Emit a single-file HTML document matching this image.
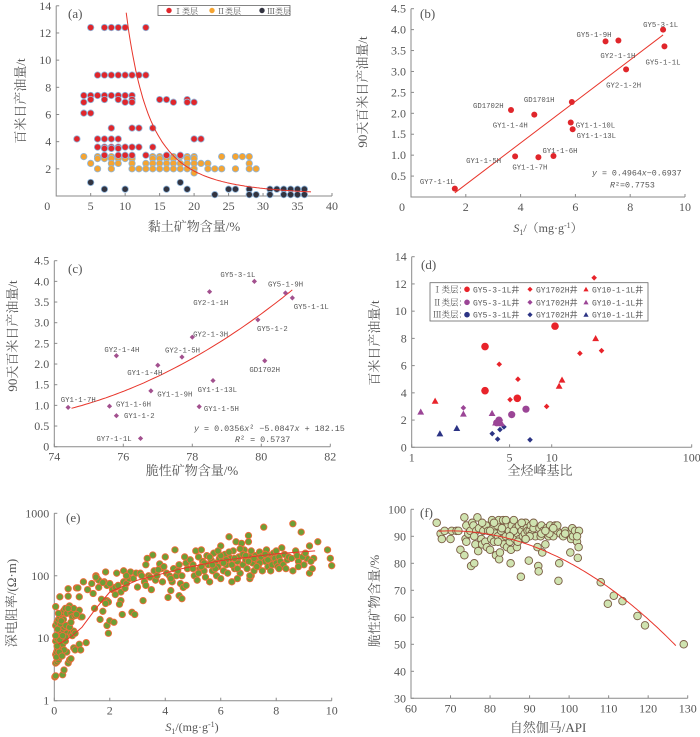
<!DOCTYPE html>
<html><head><meta charset="utf-8"><style>
html,body{margin:0;padding:0;background:#fff;}
svg{display:block;}
text{font-family:"Liberation Serif","Noto Serif CJK SC",serif;fill:#555;}
.cjk{font-family:"Liberation Serif","Noto Serif CJK SC","Noto Sans CJK SC",serif;}
.lab{font-family:"Liberation Mono","Noto Sans CJK SC",monospace;font-size:7.3px;fill:#555;}
</style></head><body>
<svg id="fig" width="700" height="737" viewBox="0 0 700 737" xmlns="http://www.w3.org/2000/svg"></svg>
<script>
// ---------- Panel (a) data ----------
const aIX=[5,7,8,9,10,13, 6,7,8,9,10,11,12,13, 4,5,6,7,8,9,10,11, 5,7,9,11,15,16,19, 4,10,11,17,19,20, 4,5, 8,11,12,14, 3,6,7,8,9,20,21, 6,7,8,9,10,11,12,14, 7,8,9, 7,9,10,11,13,16,18];
const aIY=[12.4,12.4,12.4,12.4,12.4,12.4, 8.9,8.9,8.9,8.9,8.9,8.9,8.9,8.9, 7.4,7.4,7.4,7.4,7.4,7.4,7.4,7.4, 7.1,7.1,7.1,7.1,7.1,7.1,7.1, 6.9,6.9,6.9,6.9,6.9,6.9, 6.1,6.1, 5,5,5,5, 4.2,4.2,4.2,4.2,4.2,4.2,4.2, 3.6,3.6,3.6,3.6,3.6,3.6,3.6,3.6, 3.5,3.5,3.5, 3,3,3,3,3,3,3];
const aIIX=[4,6,7,8,9,10,11,14,15,16,17,18,19,20,24,26,27,28, 6,7,8,9,10,11,14,15,16,17,19,20, 5,8,9,11,13,14,15,16,17,18,19,20,21,22,28, 6,8,11,12,13,14,15,16,17,18,19,20,22,23,24,26,28,29, 20];
const aIIY=[2.9,2.9,2.9,2.9,2.9,2.9,2.9,2.9,2.9,2.9,2.9,2.9,2.9,2.9,2.9,2.9,2.9,2.9, 2.75,2.75,2.75,2.75,2.75,2.75,2.75,2.75,2.75,2.75,2.75,2.75, 2.4,2.4,2.4,2.4,2.4,2.4,2.4,2.4,2.4,2.4,2.4,2.4,2.4,2.4,2.4, 2,2,2,2,2,2,2,2,2,2,2,2,2,2,2,2,2,2, 1.7];
const aIIIX=[5,7,7,10,16,18,19,23,25,26,28,28,29,31,31,32,33,33,34,34,35,35,36,36];
const aIIIY=[1,2.95,0.5,0.5,0.5,1,0.5,0.1,0.5,0.5,0.5,0.1,0.1,0.5,0.1,0.5,0.5,0.1,0.5,0.1,0.5,0.1,0.5,0.1];
const aXTicks=[5,10,15,20,25,30,35,40];
const aYTicks=[2,4,6,8,10,12,14];
const aFit=[13.3,10.2,2.94]; // power fit: y = a*(x/x0)^-b

// ---------- Panel (b) data ----------
const bNames=["GY7-1-1L","GY1-1-5H","GY1-1-7H","GY1-1-6H","GD1702H","GY1-1-4H","GD1701H","GY1-1-10L","GY1-1-13L","GY5-1-9H","GY2-1-1H","GY2-1-2H","GY5-3-1L","GY5-1-1L"];
const bS1=[1.6,3.8,4.65,5.2,3.65,4.5,5.87,5.83,5.9,7.1,7.57,7.85,9.2,9.25];
const bOil=[0.2,0.97,0.95,0.98,2.08,1.97,2.27,1.78,1.62,3.72,3.74,3.05,4.0,3.6];
const bXTicks=[2,4,6,8,10];
const bYTicks=[0.5,1.0,1.5,2.0,2.5,3.0,3.5,4.0,4.5];
const bFit=[0.4964,-0.6937];

// ---------- Panel (c) data ----------
const cNames=["GY1-1-7H","GY1-1-6H","GY1-1-2","GY7-1-1L","GY2-1-4H","GY1-1-4H","GY1-1-9H","GY2-1-5H","GY2-1-3H","GY2-1-1H","GY1-1-13L","GY1-1-5H","GY5-3-1L","GY5-1-2","GD1702H","GY5-1-9H","GY5-1-1L"];
const cBrittle=[74.4,75.6,75.8,76.5,75.8,77.0,76.8,77.7,78.0,78.5,78.6,78.2,79.8,79.9,80.1,80.7,80.9];
const cOil=[0.95,0.98,0.75,0.2,2.2,1.97,1.35,2.17,2.65,3.75,1.6,0.97,4.0,3.07,2.08,3.72,3.6];
const cXTicks=[74,76,78,80,82];
const cYTicks=[0,0.5,1.0,1.5,2.0,2.5,3.0,3.5,4.0,4.5];
const cFit=[0.0356,-5.0847,182.15];

// ---------- Panel (d) data ----------
const dICircX=[3.34,3.34,5.68,10.56], dICircY=[7.4,4.16,3.6,8.9];
const dIDiaX=[4.22,5.74,5.04,9.2,15.9,20.1,22.7], dIDiaY=[6.1,5.0,3.5,3.0,6.9,12.45,7.1];
const dITriX=[1.47,11.3,11.85,20.6], dITriY=[3.4,4.5,4.95,8.0];
const dIICircX=[4.2,5.18,6.55,4.05], dIICircY=[2.0,2.4,2.8,1.8];
const dIIDiaX=[2.34,4.3], dIIDiaY=[2.9,2.0];
const dIITriX=[1.16,2.34,3.75,3.97,4.39], dIITriY=[2.6,2.45,2.5,1.8,1.75];
const dIIIDiaX=[3.76,4.11,4.27,4.56,7.0], dIIIDiaY=[1.0,0.6,1.3,1.5,0.55];
const dIIITriX=[1.59,2.1], dIIITriY=[1.0,1.4];
const dXTicks=[1,5,10,100];
const dYTicks=[0,2,4,6,8,10,12,14];

// ---------- Panel (e) data ----------
const eS1=[0.02,0.05,0.3,0.35,0.05,0.1,0.15,0.2,0.05,0.08,0.12,0.18,0.25,0.3,0.05,0.1,0.15,0.2,0.25,0.3,0.35,0.05,0.1,0.15,0.2,0.25,0.3,0.35,0.4,0.05,0.2,0.45,0.45,0.4,0.45,0.4,0.1,0.2,0.3,0.05,0.12,0.22,0.33,0.42,0.15,0.25,0.35,0.08,0.18,0.28,
0.5,0.55,0.6,0.5,0.5,0.55,0.6,0.65,0.7,0.75,0.8,0.85,0.9,0.9,0.95,1.0,0.7,0.75,0.6,0.65,0.7,0.75,0.9,0.95,1.15,1.05,0.55,0.8,0.5,0.6,
1.2,1.35,1.4,1.45,1.5,1.55,1.6,1.65,1.7,1.75,1.8,1.85,1.9,1.9,1.95,1.85,1.9,2.0,1.95,2.1,2.15,2.2,2.25,2.3,2.4,2.45,2.4,2.5,2.5,2.55,2.6,2.7,2.75,2.8,2.85,2.9,2.95,3.0,2.2,2.6,1.6,1.75,2.35,2.0,1.5,
3.1,3.2,3.25,3.3,3.35,3.4,3.5,3.55,3.6,3.65,3.7,3.8,3.85,3.9,4.0,4.05,4.1,4.15,4.2,4.25,4.3,4.35,4.4,4.5,4.5,4.55,4.6,4.6,4.65,4.7,4.75,4.8,3.3,3.45,3.75,3.95,4.2,4.45,4.75,3.15,
4.9,5.0,5.05,5.1,5.15,5.2,5.25,5.3,5.35,5.4,5.45,5.5,5.55,5.6,5.65,5.7,5.75,5.8,5.85,5.9,5.95,6.0,6.0,6.05,6.1,6.15,6.2,6.25,6.3,6.35,6.4,6.45,6.5,6.55,6.6,6.65,6.7,6.75,6.8,6.85,6.9,6.95,7.0,7.05,7.05,7.1,7.1,7.15,7.2,7.25,7.3,7.35,7.4,7.45,7.5,7.55,7.6,7.65,7.7,7.75,7.8,7.85,7.9,7.95,8.0,8.05,8.1,8.15,8.2,8.25,8.3,8.35,8.4,8.45,5.0,5.2,5.4,5.6,5.8,6.0,6.2,6.4,6.6,6.8,7.0,7.2,7.4,7.6,7.8,8.0,5.3,5.7,6.1,6.5,6.9,7.3,7.7,8.1,6.3,7.0,6.7,5.9,6.6,7.05,
8.6,8.6,8.7,8.8,8.9,9.0,9.0,9.1,9.2,9.2,9.3,9.35,9.5,9.85,9.95,10.0,8.55,8.75,8.95,9.25,8.8,9.05];
const eRes=[2.4,2.5,2.6,3.1,4,4.2,4.5,5,5.5,6,6.5,7,7.5,8,9,10,11,12,13,14,15,16,18,20,22,24,26,28,30,32,46,25,12,9,6,10.5,7.5,9.5,11,11,14,17,20,16,25,19,6.5,5,6,5.2,
4,4.5,4.7,62,47,33,25,22,30,23,64,64,46,28,22,22,7,6.5,12,11,13,12,8,6.5,8.5,80,15,24,30,18,
60,75,52,30,100,90,65,20,42,27,80,115,70,40,38,36,16,19,12,60,18,65,110,70,55,24,40,120,80,63,75,90,115,26,90,24,110,66,50,100,85,78,35,75,95,
110,40,80,150,190,100,60,215,120,85,100,155,130,80,200,110,45,100,58,80,130,260,100,150,48,75,100,43,65,200,70,130,70,95,125,140,90,120,160,100,
180,150,100,250,85,200,130,260,170,120,95,210,150,80,180,120,230,160,100,140,190,300,90,170,120,220,150,110,420,190,80,250,130,350,170,200,110,330,150,260,180,130,440,200,90,100,250,160,120,210,180,140,240,200,120,600,170,260,140,210,180,150,230,190,160,140,200,170,280,150,220,130,180,200,130,110,160,200,130,210,180,150,130,220,170,190,160,220,120,250,140,150,160,190,210,140,180,130,240,350,270,250,90,100,
680,120,250,170,500,210,150,190,300,110,130,190,350,260,190,145,190,210,200,170,140,230];
const eXTicks=[0,2,4,6,8,10];
const eYTicks=[1,10,100,1000];
const eFitX=[0.15,0.6,1,1.5,2,3,4.5,6,8,9.4];
const eFitY=[8,10.5,15,30,55,85,127,175,225,250];

// ---------- Panel (f) data ----------
const fGR=[66.5,67.5,67.8,68.5,70,70.3,71.5,72,72.5,73.5,73.5,73.8,74,74,74.5,75,75.2,75.5,75.8,76,76.3,76.5,76.8,77,77.2,77.8,78,78.3,78.8,79,79.2,79.5,80,80.3,80.5,80.8,81,81.3,81.5,81.8,82,82.2,82.3,82.5,82.8,83,83.3,83.5,83.8,84,84.3,84.5,84.8,85,85.2,85.3,85.5,85.8,86,86.3,86.5,86.8,87,87.3,87.5,87.8,88,88.3,88.5,88.8,89,89.3,89.5,89.8,90,90.3,90.5,91,91.5,92,92.2,92.3,92.5,92.8,93,93.2,93.5,94,94.3,94.8,95.2,95.5,96,96.5,97,97.3,97.5,97.8,98.5,99,100,100.3,100.5,100.8,101,101.5,102,102.2,102.4,102.5,102,
108,109.8,111.3,113.5,117.3,119.2,129,
80,81,83,84,86,88,90,91,93,95,97,99,78,76,82,85,87,89,94,96];
const fBrittle=[95,91,89,92,89,92,92,92,85,83,97,89,88,94,91,92,79,95,94,80,87,92,97,84.5,93,89,87,92,88,94,86,92,85,89,96,93,88,91,83,94,90,96,81.5,84,92,89,96,87,93,90,86,94,92,88,80,85,94,91,96,89,93,86,91,94,89,75,92,90,94,91,95,93,92,81,92,94,91,93,90,86,79,77,93,90,94,84,92,87,93,90,94,92,90,94,92,73.5,80,91,90,92,91,84,89,93,90,92,88,82,86,92,90,
73,65,68,66,60.5,57,50,
92,95,93,96,92,95,90,95,91,91,94,91,95,90,88,90,88,89,92,93];
const fXTicks=[60,70,80,90,100,110,120,130];
const fYTicks=[30,40,50,60,70,80,90,100];
const fFit=[92,70,0.01308]; // y = a - k(x-x0)^2

// ---------- helpers ----------
const NS="http://www.w3.org/2000/svg";
const svg=document.getElementById('fig');
function el(tag,attrs,parent){const e=document.createElementNS(NS,tag);for(const k in attrs)e.setAttribute(k,attrs[k]);(parent||svg).appendChild(e);return e;}
function lin(d0,d1,r0,r1){return v=>r0+(v-d0)/(d1-d0)*(r1-r0);}
function lg(d0,d1,r0,r1){return v=>r0+(Math.log10(v)-Math.log10(d0))/(Math.log10(d1)-Math.log10(d0))*(r1-r0);}
function group(name){const g=el('g',{});return g;}
function txt(g,x,y,s,opts){const t=el('text',Object.assign({x:x,y:y},opts||{}),g);t.textContent=s;return t;}
function axes(g,X,Y,x0,x1,y0,y1,xt,yt,fmtX,fmtY,zeroCorner){
  const ax=el('path',{d:`M${X(x0)},${Y(y1)}V${Y(y0)}H${X(x1)}`,fill:'none',stroke:'#8a8a8a','stroke-width':1},g);
  
  
  xt.forEach(v=>{const px=X(v);el('line',{x1:px,x2:px,y1:Y(y0),y2:Y(y0)-3,stroke:'#8a8a8a'},g);
    const t=txt(g,px,Y(y0)+14,fmtX(v),{'text-anchor':'middle','font-size':12});
    
    });
  yt.forEach(v=>{const py=Y(v);el('line',{x1:X(x0),x2:X(x0)+3,y1:py,y2:py,stroke:'#8a8a8a'},g);
    const t=txt(g,X(x0)-5,py+4,fmtY(v),{'text-anchor':'end','font-size':12});
    
    });
  if(zeroCorner){const t=txt(g,X(x0)-9,Y(y0)+14,'0',{'text-anchor':'middle','font-size':12});
    
    }
}
function ytitle(g,x,y,s){const t=txt(g,x,y,s,{'text-anchor':'middle','font-size':13,class:'cjk',transform:`rotate(-90 ${x} ${y})`,'dominant-baseline':'middle'});
  
  return t;}
function xtitle(g,x,y,s){const t=txt(g,x,y,s,{'text-anchor':'middle','font-size':13,class:'cjk'});
  
  return t;}
function plabel(g,x,y,s){const t=txt(g,x,y,s,{'font-size':13});
  
  }
function marker(g,shape,x,y,r,fill,stroke,sw){
  let m;
  if(shape==='circle')m=el('circle',{cx:x,cy:y,r:r,fill:fill,stroke:stroke||'none','stroke-width':sw||0},g);
  else if(shape==='diamond')m=el('path',{d:`M${x},${y-r}L${x+r},${y}L${x},${y+r}L${x-r},${y}Z`,fill:fill},g);
  else m=el('path',{d:`M${x},${y-r}L${x+r},${y+r*0.8}L${x-r},${y+r*0.8}Z`,fill:fill},g);
  return m;}
const f1=v=>v.toFixed(1), f0=v=>String(v);

// ---------- Panel (a) ----------
(function(){
  const g=group('panel-a-clay-vs-oil');
  const X=lin(0,40,56.2,332), Y=lin(0,14,196,5.8);
  axes(g,X,Y,0,40,0,14,aXTicks,aYTicks,f0,f0,true);
  ytitle(g,22,101,'百米日产油量/t');
  xtitle(g,194,231,'黏土矿物含量/%');
  plabel(g,68,18,'(a)');
  const sets=[[aIIIX,aIIIY,'#333440','class-III-point'],[aIIX,aIIY,'#f5a431','class-II-point'],[aIX,aIY,'#e0262b','class-I-point']];
  sets.forEach(([xs,ys,c,n])=>xs.forEach((x,i)=>{const m=marker(g,'circle',X(x),Y(ys[i]),3.2,c,'#8fb6dc',0.8);
    
    }));
  let d='';for(let x=10.15;x<=37;x+=0.2){const y=aFit[0]*Math.pow(x/aFit[1],-aFit[2]);d+=(d?'L':'M')+X(x).toFixed(1)+','+Y(y).toFixed(1);}
  const fl=el('path',{d:d,fill:'none',stroke:'#e8352b','stroke-width':1},g);
  
  
  const lg=group('legend-a');g.appendChild(lg);
  el('rect',{x:158,y:5.5,width:132,height:10,fill:'#fff',stroke:'#666','stroke-width':0.8},lg);
  [['Ⅰ类层','#e0262b',169],['Ⅱ类层','#f5a431',212],['Ⅲ类层','#333440',262]].forEach(([s,c,x])=>{
    const m=marker(lg,'circle',x,10.5,2.7,c);
    
    
    const t=txt(lg,x+5,13.8,s,{'font-size':8,class:'cjk'});
    
    });
})();

// ---------- Panel (b) ----------
(function(){
  const g=group('panel-b-s1-vs-oil');
  const X=lin(0,10,411,685), Y=lin(0,4.5,197,8.7);
  axes(g,X,Y,0,10,0,4.5,bXTicks,bYTicks,f0,f1,true);
  ytitle(g,364,92,'90天百米日产油量/t');
  const xt=txt(g,548,232,'',{'text-anchor':'middle','font-size':12,class:'cjk'});
  
  
  xt.innerHTML='<tspan font-style="italic">S</tspan><tspan font-size="8" dy="3">1</tspan><tspan dy="-3">/（mg·g</tspan><tspan font-size="8" dy="-4">-1</tspan><tspan dy="4">）</tspan>';
  plabel(g,420,18,'(b)');
  const fl=el('line',{x1:X(1.6),y1:Y(bFit[0]*1.6+bFit[1]),x2:X(9.2),y2:Y(bFit[0]*9.2+bFit[1]),stroke:'#e8352b','stroke-width':1},g);
  
  
  const off=[[-35,-7],[-49,4.3],[-26,9.7],[-11,-5.3],[-38,-4.4],[-41.6,10.3],[-48,-2.7],[5,2.7],[4,6.3],[-29,-7],[-18,15],[-20,15.7],[-20,-5],[-19,15.7]];
  bS1.forEach((x,i)=>{const px=X(x),py=Y(bOil[i]);
    const m=marker(g,'circle',px,py,3,'#e0262b');
    
    
    const t=txt(g,px+off[i][0],py+off[i][1]+2.5,bNames[i],{class:'lab'});
    
    });
  const e1=txt(g,592,175.5,'',{class:'lab'});e1.setAttribute('style','font-size:8.3px');
  
  
  e1.innerHTML='<tspan font-style="italic">y</tspan> = 0.4964<tspan font-style="italic">x</tspan>−0.6937';
  const e2=txt(g,610,187.5,'',{class:'lab'});e2.setAttribute('style','font-size:8.3px');
  
  
  e2.innerHTML='<tspan font-style="italic">R</tspan>²=0.7753';
})();

// ---------- Panel (c) ----------
(function(){
  const g=group('panel-c-brittle-vs-oil');
  const X=lin(74,82,54.3,330.3), Y=lin(0,4.5,446.7,260.7);
  axes(g,X,Y,74,82,0,4.5,cXTicks,cYTicks,f0,v=>v===0?'0':f1(v),false);
  ytitle(g,14,336,'90天百米日产油量/t');
  xtitle(g,192,475,'脆性矿物含量/%');
  plabel(g,68,273,'(c)');
  let d='';for(let x=74.5;x<=80.91;x+=0.1){const y=cFit[0]*x*x+cFit[1]*x+cFit[2];d+=(d?'L':'M')+X(x).toFixed(1)+','+Y(y).toFixed(1);}
  const fl=el('path',{d:d,fill:'none',stroke:'#e8352b','stroke-width':1},g);
  
  
  const off=[[-7.4,-8],[6.5,-2],[7.6,0],[-44,0],[-12,-6.5],[-30.5,7.4],[6.4,3],[-17,-7],[0.8,-3],[-16.3,11],[-15.4,8.7],[4.7,1.7],[-34,-7],[-0.8,8.5],[-15.4,8.6],[-17.4,-8.7],[1.4,8.8]];
  cBrittle.forEach((x,i)=>{const px=X(x),py=Y(cOil[i]);
    const m=marker(g,'diamond',px,py,2.6,'#a2508e');
    
    
    const t=txt(g,px+off[i][0],py+off[i][1]+2.5,cNames[i],{class:'lab'});
    
    });
  const e1=txt(g,194,431,'',{class:'lab'});e1.setAttribute('style','font-size:8.4px');
  
  
  e1.innerHTML='<tspan font-style="italic">y</tspan> = 0.0356<tspan font-style="italic">x</tspan>² −5.0847<tspan font-style="italic">x</tspan> + 182.15';
  const e2=txt(g,235,442,'',{class:'lab'});e2.setAttribute('style','font-size:8.4px');
  
  
  e2.innerHTML='<tspan font-style="italic">R</tspan>² = 0.5737';
})();

// ---------- Panel (d) ----------
(function(){
  const g=group('panel-d-ratio-vs-oil');
  const X=lg(1,100,411.7,691.7), Y=lin(0,14,447.3,256.7);
  axes(g,X,Y,1,100,0,14,dXTicks,dYTicks,f0,f0,false);
  ytitle(g,376,343,'百米日产油量/t');
  xtitle(g,540,475,'全烃峰基比');
  plabel(g,421,269,'(d)');
  const R='#e8232a',P='#9b4596',B='#2b3384';
  const sets=[[dIIIDiaX,dIIIDiaY,'diamond',B,2.8,'class-III-GY1702H'],[dIIITriX,dIIITriY,'tri',B,3.4,'class-III-GY10-1-1L'],
    [dIITriX,dIITriY,'tri',P,3.4,'class-II-GY10-1-1L'],[dIICircX,dIICircY,'circle',P,3.6,'class-II-GY5-3-1L'],[dIIDiaX,dIIDiaY,'diamond',P,2.8,'class-II-GY1702H'],
    [dICircX,dICircY,'circle',R,3.8,'class-I-GY5-3-1L'],[dIDiaX,dIDiaY,'diamond',R,2.8,'class-I-GY1702H'],[dITriX,dITriY,'tri',R,3.4,'class-I-GY10-1-1L']];
  sets.forEach(([xs,ys,sh,c,r,n])=>xs.forEach((x,i)=>{const m=marker(g,sh,X(x),Y(ys[i]),r,c);
    
    }));
  const L=group('legend-d');g.appendChild(L);
  el('rect',{x:430,y:282.7,width:218,height:38.3,fill:'#fff',stroke:'#666','stroke-width':0.8},L);
  const rows=[['Ⅰ类层：',R,289.3],['Ⅱ类层：',P,302.3],['Ⅲ类层：',B,314.7]];
  const cols=[['circle',467,'GY5-3-1L井'],['diamond',530,'GY1702H井'],['tri',586,'GY10-1-1L井']];
  rows.forEach(([s,c,y])=>{const t=txt(L,433,y+3,s,{'font-size':8.5,class:'cjk'});
    
    
    cols.forEach(([sh,x,nm])=>{const m=marker(L,sh,x,y,sh==='circle'?2.8:2.6,c);
      
      
      const tt=txt(L,x+6,y+3,nm,{'font-size':8,class:'lab'});tt.setAttribute('style','font-size:8px');
      
      });});
})();

// ---------- Panel (e) ----------
(function(){
  const g=group('panel-e-s1-vs-resistivity');
  const X=lin(0,10,54.3,331.7), Y=lg(1,1000,700.7,513.3);
  axes(g,X,Y,0,10,1,1000,eXTicks,eYTicks,f0,f0,false);
  ytitle(g,13,603,'深电阻率/(Ω·m)');
  const xt=txt(g,192,731,'',{'text-anchor':'middle','font-size':12,class:'cjk'});
  
  
  xt.innerHTML='<tspan font-style="italic">S</tspan><tspan font-size="8" dy="3">1</tspan><tspan dy="-3">/(mg·g</tspan><tspan font-size="8" dy="-4">-1</tspan><tspan dy="4">)</tspan>';
  plabel(g,66,522,'(e)');
  eS1.forEach((x,i)=>{const m=marker(g,'circle',X(x),Y(eRes[i]),3.2,'#6e9e35','#f06a3a',0.9);
    
    });
  let d='';eFitX.forEach((x,i)=>{d+=(i?'L':'M')+X(x).toFixed(1)+','+Y(eFitY[i]).toFixed(1);});
  const fl=el('path',{d:d,fill:'none',stroke:'#e8352b','stroke-width':1,'stroke-linejoin':'round'},g);
  
  
})();

// ---------- Panel (f) ----------
(function(){
  const g=group('panel-f-gamma-vs-brittle');
  const X=lin(60,130,411,687.7), Y=lin(30,100,698.3,509.3);
  axes(g,X,Y,60,130,30,100,fXTicks,fYTicks,f0,f0,false);
  ytitle(g,376,601,'脆性矿物含量/%');
  xtitle(g,548,732,'自然伽马/API');
  plabel(g,420,517,'(f)');
  fGR.forEach((x,i)=>{const m=marker(g,'circle',X(x),Y(fBrittle[i]),3.8,'#cfe3b0','#7a5c44',0.9);
    
    });
  let d='';for(let x=67;x<=127;x+=0.5){const y=fFit[0]-fFit[2]*(x-fFit[1])*(x-fFit[1]);d+=(d?'L':'M')+X(x).toFixed(1)+','+Y(y).toFixed(1);}
  const fl=el('path',{d:d,fill:'none',stroke:'#e8352b','stroke-width':1},g);
  
  
})();
</script>
</body></html>
